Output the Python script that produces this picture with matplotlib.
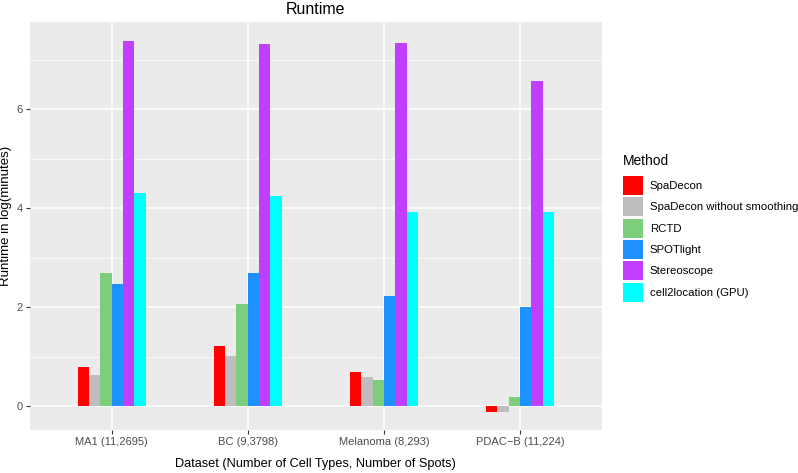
import numpy as np
import matplotlib
matplotlib.use('Agg')
import matplotlib.pyplot as plt
from matplotlib.patches import Patch

plt.rcParams['font.family'] = ['Liberation Sans', 'DejaVu Sans']

datasets = ['MA1 (11,2695)', 'BC (9,3798)', 'Melanoma (8,293)', 'PDAC\u2212B (11,224)']
methods = ['SpaDecon', 'SpaDecon without smoothing', 'RCTD', 'SPOTlight',
           'Stereoscope', 'cell2location (GPU)']
colors = ['#FF0000', '#BEBEBE', '#7CCD7C', '#1E90FF', '#BF3EFF', '#00FFFF']

spadecon = [0.78, 1.21, 0.69, -0.115]
spadecon_nosmooth = [0.63, 1.02, 0.59, -0.115]
rctd = [2.69, 2.06, 0.53, 0.18]
spotlight = [2.46, 2.70, 2.23, 2.01]
stereoscope = [7.39, 7.32, 7.35, 6.58]
cell2location = [4.31, 4.25, 3.93, 3.93]

series = [spadecon, spadecon_nosmooth, rctd, spotlight, stereoscope, cell2location]

fig = plt.figure(figsize=(7.98, 4.73), dpi=100)
ax = fig.add_axes([0.0376, 0.0909, 0.7164, 0.8626])
ax.set_facecolor('#EBEBEB')

x = np.arange(1, len(datasets) + 1)
w = 0.5 / len(methods)
for i, (vals, c) in enumerate(zip(series, colors)):
    ax.bar(x - 0.25 + w * (i + 0.5), vals, width=w, color=c, zorder=3)

ax.set_xlim(0.4, 4.6)
ax.set_ylim(-0.486, 7.77)
ax.set_xticks(x)
ax.set_xticklabels(datasets)
ax.set_yticks([0, 2, 4, 6])
ax.set_yticks([1, 3, 5, 7], minor=True)
ax.grid(True, which='major', color='white', linewidth=1.1, zorder=0)
ax.grid(True, which='minor', axis='y', color='white', linewidth=0.55, zorder=0)
for s in ax.spines.values():
    s.set_visible(False)
ax.tick_params(axis='both', which='major', length=3, width=0.8, color='#333333',
               labelsize=8, labelcolor='#4D4D4D', pad=2)
ax.tick_params(axis='y', which='minor', length=0)

ax.set_title('Runtime', fontsize=11.5, pad=6)
ax.set_xlabel('Dataset (Number of Cell Types, Number of Spots)', fontsize=9.2, labelpad=8)
ax.set_ylabel('Runtime in log(minutes)', fontsize=9.5)
ax.yaxis.set_label_coords(-0.031, 0.524)

handles = [Patch(facecolor=c, edgecolor='none') for c in colors]
leg = fig.legend(handles, methods, title='Method', loc='upper left',
                 bbox_to_anchor=(0.768, 0.697), frameon=False, fontsize=8.2,
                 title_fontsize=9.9, handlelength=1.75, handleheight=2.2,
                 handletextpad=0.6, labelspacing=0.2, alignment='left')
leg._legend_box.sep = 6

fig.savefig('out.png', dpi=100)
